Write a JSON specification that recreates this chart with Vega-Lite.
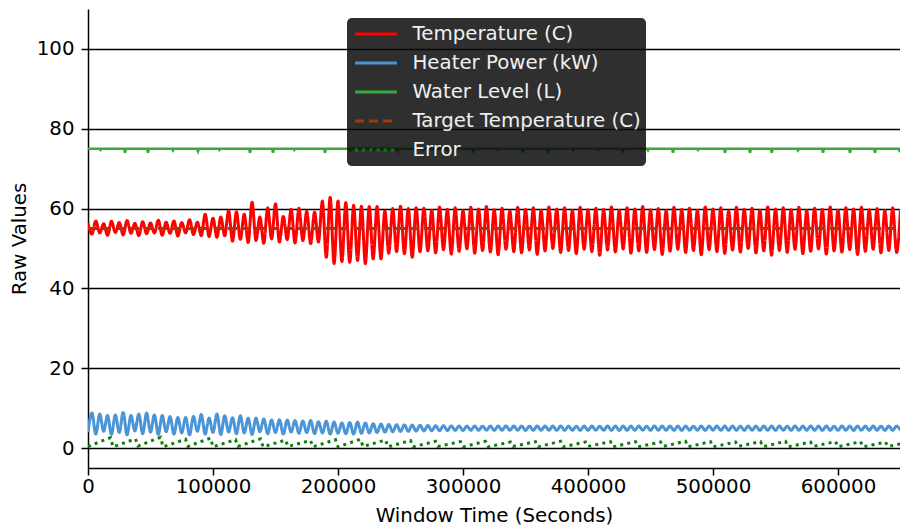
{
  "$schema": "https://vega.github.io/schema/vega-lite/v6.json",
  "width": 812,
  "height": 459,
  "autosize": {"type": "none"},
  "padding": {"left": 88, "top": 9, "right": 0, "bottom": 62},
  "background": "white",
  "config": {
    "font": "DejaVu Sans",
    "view": {"stroke": null},
    "axis": {
      "domainColor": "#000",
      "domainWidth": 1.5,
      "tickColor": "#000",
      "tickWidth": 1.5,
      "tickSize": 7,
      "labelFont": "DejaVu Sans",
      "labelFontSize": 19.8,
      "labelColor": "#000",
      "titleFont": "DejaVu Sans",
      "titleFontSize": 19.8,
      "titleFontWeight": "normal",
      "titleColor": "#000"
    },
    "legend": {
      "orient": "none",
      "legendX": 259,
      "legendY": 9,
      "fillColor": "rgba(10,10,10,0.85)",
      "cornerRadius": 5,
      "padding": 5,
      "symbolType": "stroke",
      "symbolSize": 1764,
      "symbolStrokeWidth": 3,
      "symbolOffset": 1.5,
      "labelOffset": 14,
      "labelFont": "DejaVu Sans",
      "labelFontSize": 19.8,
      "labelColor": "#f0f0f0",
      "labelLimit": 400,
      "clipHeight": 22,
      "rowPadding": 7
    }
  },
  "datasets": {
    "temperature": [
      {"time":0,"value":56.4},{"time":3125,"value":53.6},{"time":6250,"value":56.9},{"time":9375,"value":53.9},{"time":12500,"value":56.2},{"time":15625,"value":53.3},{"time":18750,"value":56.8},{"time":21875,"value":54.0},{"time":25000,"value":56.5},{"time":28125,"value":53.4},
      {"time":31250,"value":57.0},{"time":34375,"value":53.8},{"time":37500,"value":56.3},{"time":40625,"value":53.2},{"time":43750,"value":56.7},{"time":46875,"value":53.7},{"time":50000,"value":56.4},{"time":53125,"value":53.9},{"time":56250,"value":57.1},{"time":59375,"value":53.3},
      {"time":62500,"value":56.6},{"time":65625,"value":53.8},{"time":68750,"value":56.9},{"time":71875,"value":53.1},{"time":75000,"value":56.5},{"time":78125,"value":53.9},{"time":81250,"value":57.2},{"time":84375,"value":53.5},{"time":87500,"value":56.6},{"time":90625,"value":53.2},
      {"time":93750,"value":58.6},{"time":96875,"value":53.0},{"time":100000,"value":57.6},{"time":103125,"value":52.8},{"time":106250,"value":57.9},{"time":109375,"value":53.2},{"time":112500,"value":59.4},{"time":115625,"value":51.8},{"time":118750,"value":59.2},{"time":121875,"value":52.3},
      {"time":125000,"value":58.6},{"time":128125,"value":51.5},{"time":131250,"value":61.6},{"time":134375,"value":52.0},{"time":137500,"value":57.9},{"time":140625,"value":51.3},{"time":143750,"value":60.2},{"time":146875,"value":52.4},{"time":150000,"value":61.2},{"time":153125,"value":51.6},
      {"time":156250,"value":58.0},{"time":159375,"value":52.2},{"time":162500,"value":59.8},{"time":165625,"value":51.4},{"time":168750,"value":60.1},{"time":171875,"value":52.0},{"time":175000,"value":59.3},{"time":178125,"value":51.2},{"time":181250,"value":59.1},{"time":184375,"value":51.6},
      {"time":187500,"value":61.9},{"time":190625,"value":47.8},{"time":193750,"value":62.8},{"time":196875,"value":46.2},{"time":200000,"value":61.9},{"time":203125,"value":46.7},{"time":206250,"value":61.5},{"time":209375,"value":46.5},{"time":212500,"value":60.8},{"time":215625,"value":47.0},
      {"time":218750,"value":60.6},{"time":221875,"value":46.2},{"time":225000,"value":60.5},{"time":228125,"value":47.4},{"time":231250,"value":60.5},{"time":234375,"value":47.4},{"time":237500,"value":59.4},{"time":240625,"value":48.8},{"time":243750,"value":60.0},{"time":246875,"value":49.2},
      {"time":250000,"value":60.6},{"time":253125,"value":48.7},{"time":256250,"value":60.0},{"time":259375,"value":47.8},{"time":262500,"value":60.2},{"time":265625,"value":49.2},{"time":268750,"value":60.1},{"time":271875,"value":49.4},{"time":275000,"value":59.6},{"time":278125,"value":48.9},
      {"time":281250,"value":60.4},{"time":284375,"value":49.7},{"time":287500,"value":59.8},{"time":290625,"value":48.6},{"time":293750,"value":60.2},{"time":296875,"value":49.3},{"time":300000,"value":59.5},{"time":303125,"value":49.9},{"time":306250,"value":60.3},{"time":309375,"value":48.8},
      {"time":312500,"value":59.9},{"time":315625,"value":49.5},{"time":318750,"value":60.5},{"time":321875,"value":49.1},{"time":325000,"value":59.7},{"time":328125,"value":48.4},{"time":331250,"value":60.1},{"time":334375,"value":49.8},{"time":337500,"value":59.4},{"time":340625,"value":49.2},
      {"time":343750,"value":60.3},{"time":346875,"value":48.9},{"time":350000,"value":59.8},{"time":353125,"value":49.6},{"time":356250,"value":60.2},{"time":359375,"value":48.5},{"time":362500,"value":59.6},{"time":365625,"value":49.4},{"time":368750,"value":60.4},{"time":371875,"value":50.0},
      {"time":375000,"value":59.9},{"time":378125,"value":49.0},{"time":381250,"value":60.2},{"time":384375,"value":49.5},{"time":387500,"value":59.5},{"time":390625,"value":48.7},{"time":393750,"value":60.3},{"time":396875,"value":49.8},{"time":400000,"value":59.7},{"time":403125,"value":49.2},
      {"time":406250,"value":60.1},{"time":409375,"value":48.3},{"time":412500,"value":59.8},{"time":415625,"value":49.6},{"time":418750,"value":60.4},{"time":421875,"value":49.1},{"time":425000,"value":59.6},{"time":428125,"value":49.9},{"time":431250,"value":60.2},{"time":434375,"value":48.8},
      {"time":437500,"value":59.9},{"time":440625,"value":49.4},{"time":443750,"value":60.5},{"time":446875,"value":49.0},{"time":450000,"value":59.7},{"time":453125,"value":49.7},{"time":456250,"value":60.0},{"time":459375,"value":48.5},{"time":462500,"value":59.5},{"time":465625,"value":49.3},
      {"time":468750,"value":60.3},{"time":471875,"value":49.8},{"time":475000,"value":59.8},{"time":478125,"value":49.0},{"time":481250,"value":60.1},{"time":484375,"value":49.5},{"time":487500,"value":59.6},{"time":490625,"value":48.4},{"time":493750,"value":60.4},{"time":496875,"value":49.7},
      {"time":500000,"value":59.9},{"time":503125,"value":49.2},{"time":506250,"value":60.2},{"time":509375,"value":48.8},{"time":512500,"value":59.4},{"time":515625,"value":49.6},{"time":518750,"value":60.3},{"time":521875,"value":49.1},{"time":525000,"value":59.8},{"time":528125,"value":50.0},
      {"time":531250,"value":60.1},{"time":534375,"value":48.9},{"time":537500,"value":59.6},{"time":540625,"value":49.4},{"time":543750,"value":60.4},{"time":546875,"value":48.3},{"time":550000,"value":59.9},{"time":553125,"value":49.5},{"time":556250,"value":60.2},{"time":559375,"value":49.0},
      {"time":562500,"value":59.7},{"time":565625,"value":49.8},{"time":568750,"value":60.3},{"time":571875,"value":48.7},{"time":575000,"value":59.5},{"time":578125,"value":49.3},{"time":581250,"value":60.1},{"time":584375,"value":49.9},{"time":587500,"value":59.8},{"time":590625,"value":48.6},
      {"time":593750,"value":60.4},{"time":596875,"value":49.4},{"time":600000,"value":59.6},{"time":603125,"value":49.1},{"time":606250,"value":60.2},{"time":609375,"value":49.7},{"time":612500,"value":59.9},{"time":615625,"value":48.5},{"time":618750,"value":60.3},{"time":621875,"value":49.3},
      {"time":625000,"value":59.7},{"time":628125,"value":49.8},{"time":631250,"value":60.0},{"time":634375,"value":48.9},{"time":637500,"value":59.5},{"time":640625,"value":49.5},{"time":643750,"value":60.2},{"time":646875,"value":49.0},{"time":650000,"value":59.8}
    ],
    "power": [
      {"time":0,"value":4.0},{"time":3125,"value":8.75},{"time":6250,"value":3.5},{"time":9375,"value":8.5},{"time":12500,"value":4.2},{"time":15625,"value":8.15},{"time":18750,"value":3.4},{"time":21875,"value":8.3},{"time":25000,"value":3.9},{"time":28125,"value":8.9},
      {"time":31250,"value":3.3},{"time":34375,"value":8.15},{"time":37500,"value":4.3},{"time":40625,"value":8.5},{"time":43750,"value":3.6},{"time":46875,"value":8.75},{"time":50000,"value":4.0},{"time":53125,"value":8.3},{"time":56250,"value":3.4},{"time":59375,"value":8.15},
      {"time":62500,"value":4.1},{"time":65625,"value":7.9},{"time":68750,"value":3.5},{"time":71875,"value":7.65},{"time":75000,"value":3.8},{"time":78125,"value":7.65},{"time":81250,"value":3.3},{"time":84375,"value":7.9},{"time":87500,"value":4.2},{"time":90625,"value":8.4},
      {"time":93750,"value":3.5},{"time":96875,"value":7.5},{"time":100000,"value":3.9},{"time":103125,"value":8.5},{"time":106250,"value":3.4},{"time":109375,"value":8.1},{"time":112500,"value":4.0},{"time":115625,"value":7.6},{"time":118750,"value":3.6},{"time":121875,"value":8.1},
      {"time":125000,"value":3.8},{"time":128125,"value":7.5},{"time":131250,"value":3.4},{"time":134375,"value":7.5},{"time":137500,"value":4.1},{"time":140625,"value":7.3},{"time":143750,"value":3.6},{"time":146875,"value":7.0},{"time":150000,"value":3.9},{"time":153125,"value":7.1},
      {"time":156250,"value":3.5},{"time":159375,"value":7.0},{"time":162500,"value":4.0},{"time":165625,"value":6.9},{"time":168750,"value":3.7},{"time":171875,"value":6.8},{"time":175000,"value":3.9},{"time":178125,"value":6.9},{"time":181250,"value":3.6},{"time":184375,"value":6.6},
      {"time":187500,"value":3.8},{"time":190625,"value":6.7},{"time":193750,"value":3.5},{"time":196875,"value":6.5},{"time":200000,"value":3.7},{"time":203125,"value":6.3},{"time":206250,"value":3.6},{"time":209375,"value":6.4},{"time":212500,"value":3.5},{"time":215625,"value":6.5},
      {"time":218750,"value":3.7},{"time":221875,"value":6.3},{"time":225000,"value":3.8},{"time":228125,"value":6.1},{"time":231250,"value":3.9},{"time":234375,"value":6.0},{"time":237500,"value":4.0},{"time":240625,"value":5.9},{"time":243750,"value":4.1},{"time":246875,"value":5.85},
      {"time":250000,"value":4.15},{"time":253125,"value":5.8},{"time":256250,"value":4.2},{"time":259375,"value":5.75},{"time":262500,"value":4.25},{"time":265625,"value":5.7},{"time":268750,"value":4.3},{"time":271875,"value":5.65},{"time":275000,"value":4.35},{"time":278125,"value":5.6},
      {"time":281250,"value":4.35},{"time":284375,"value":5.6},{"time":287500,"value":4.4},{"time":290625,"value":5.55},{"time":293750,"value":4.45},{"time":296875,"value":5.52},{"time":300000,"value":4.42},{"time":303125,"value":5.5},{"time":306250,"value":4.46},{"time":309375,"value":5.53},
      {"time":312500,"value":4.44},{"time":315625,"value":5.49},{"time":318750,"value":4.47},{"time":321875,"value":5.52},{"time":325000,"value":4.43},{"time":328125,"value":5.5},{"time":331250,"value":4.46},{"time":334375,"value":5.54},{"time":337500,"value":4.44},{"time":340625,"value":5.5},
      {"time":343750,"value":4.45},{"time":346875,"value":5.52},{"time":350000,"value":4.42},{"time":353125,"value":5.49},{"time":356250,"value":4.46},{"time":359375,"value":5.53},{"time":362500,"value":4.44},{"time":365625,"value":5.5},{"time":368750,"value":4.47},{"time":371875,"value":5.51},
      {"time":375000,"value":4.43},{"time":378125,"value":5.53},{"time":381250,"value":4.45},{"time":384375,"value":5.5},{"time":387500,"value":4.46},{"time":390625,"value":5.48},{"time":393750,"value":4.44},{"time":396875,"value":5.52},{"time":400000,"value":4.43},{"time":403125,"value":5.51},
      {"time":406250,"value":4.46},{"time":409375,"value":5.49},{"time":412500,"value":4.44},{"time":415625,"value":5.53},{"time":418750,"value":4.45},{"time":421875,"value":5.5},{"time":425000,"value":4.42},{"time":428125,"value":5.52},{"time":431250,"value":4.46},{"time":434375,"value":5.5},
      {"time":437500,"value":4.44},{"time":440625,"value":5.51},{"time":443750,"value":4.47},{"time":446875,"value":5.49},{"time":450000,"value":4.43},{"time":453125,"value":5.53},{"time":456250,"value":4.45},{"time":459375,"value":5.5},{"time":462500,"value":4.46},{"time":465625,"value":5.52},
      {"time":468750,"value":4.44},{"time":471875,"value":5.5},{"time":475000,"value":4.43},{"time":478125,"value":5.52},{"time":481250,"value":4.46},{"time":484375,"value":5.49},{"time":487500,"value":4.45},{"time":490625,"value":5.53},{"time":493750,"value":4.44},{"time":496875,"value":5.5},
      {"time":500000,"value":4.47},{"time":503125,"value":5.51},{"time":506250,"value":4.43},{"time":509375,"value":5.5},{"time":512500,"value":4.45},{"time":515625,"value":5.52},{"time":518750,"value":4.46},{"time":521875,"value":5.49},{"time":525000,"value":4.44},{"time":528125,"value":5.53},
      {"time":531250,"value":4.45},{"time":534375,"value":5.5},{"time":537500,"value":4.42},{"time":540625,"value":5.52},{"time":543750,"value":4.46},{"time":546875,"value":5.5},{"time":550000,"value":4.44},{"time":553125,"value":5.51},{"time":556250,"value":4.47},{"time":559375,"value":5.49},
      {"time":562500,"value":4.43},{"time":565625,"value":5.53},{"time":568750,"value":4.45},{"time":571875,"value":5.5},{"time":575000,"value":4.46},{"time":578125,"value":5.52},{"time":581250,"value":4.44},{"time":584375,"value":5.5},{"time":587500,"value":4.43},{"time":590625,"value":5.51},
      {"time":593750,"value":4.46},{"time":596875,"value":5.49},{"time":600000,"value":4.44},{"time":603125,"value":5.53},{"time":606250,"value":4.45},{"time":609375,"value":5.5},{"time":612500,"value":4.42},{"time":615625,"value":5.52},{"time":618750,"value":4.46},{"time":621875,"value":5.5},
      {"time":625000,"value":4.44},{"time":628125,"value":5.51},{"time":631250,"value":4.47},{"time":634375,"value":5.49},{"time":637500,"value":4.43},{"time":640625,"value":5.53},{"time":643750,"value":4.45},{"time":646875,"value":5.5},{"time":650000,"value":4.46}
    ],
    "water": [
      {"time":0,"value":75},
      {"time":9300,"value":75},{"time":10000,"value":74.7},{"time":10700,"value":75},
      {"time":28900,"value":75},{"time":29600,"value":74.0},{"time":30300,"value":75},
      {"time":47300,"value":75},{"time":48000,"value":74.0},{"time":48700,"value":75},
      {"time":67300,"value":75},{"time":68000,"value":74.6},{"time":68700,"value":75},
      {"time":87300,"value":75},{"time":88000,"value":74.4},{"time":88700,"value":75},
      {"time":104300,"value":75},{"time":105000,"value":74.7},{"time":105700,"value":75},
      {"time":128900,"value":75},{"time":129600,"value":74.0},{"time":130300,"value":75},
      {"time":147300,"value":75},{"time":148000,"value":74.0},{"time":148700,"value":75},
      {"time":164300,"value":75},{"time":165000,"value":74.7},{"time":165700,"value":75},
      {"time":188900,"value":75},{"time":189600,"value":74.0},{"time":190300,"value":75},
      {"time":209300,"value":75},{"time":210000,"value":74.6},{"time":210700,"value":75},
      {"time":227300,"value":75},{"time":228000,"value":74.7},{"time":228700,"value":75},
      {"time":247300,"value":75},{"time":248000,"value":74.4},{"time":248700,"value":75},
      {"time":267300,"value":75},{"time":268000,"value":74.7},{"time":268700,"value":75},
      {"time":287300,"value":75},{"time":288000,"value":74.6},{"time":288700,"value":75},
      {"time":307300,"value":75},{"time":308000,"value":74.0},{"time":308700,"value":75},
      {"time":327300,"value":75},{"time":328000,"value":74.7},{"time":328700,"value":75},
      {"time":347300,"value":75},{"time":348000,"value":74.0},{"time":348700,"value":75},
      {"time":367300,"value":75},{"time":368000,"value":74.0},{"time":368700,"value":75},
      {"time":387300,"value":75},{"time":388000,"value":74.6},{"time":388700,"value":75},
      {"time":407300,"value":75},{"time":408000,"value":74.7},{"time":408700,"value":75},
      {"time":427300,"value":75},{"time":428000,"value":74.0},{"time":428700,"value":75},
      {"time":447300,"value":75},{"time":448000,"value":74.6},{"time":448700,"value":75},
      {"time":467300,"value":75},{"time":468000,"value":74.0},{"time":468700,"value":75},
      {"time":487300,"value":75},{"time":488000,"value":74.7},{"time":488700,"value":75},
      {"time":508900,"value":75},{"time":509600,"value":74.0},{"time":510300,"value":75},
      {"time":528900,"value":75},{"time":529600,"value":74.0},{"time":530300,"value":75},
      {"time":546300,"value":75},{"time":547000,"value":74.0},{"time":547700,"value":75},
      {"time":567300,"value":75},{"time":568000,"value":74.6},{"time":568700,"value":75},
      {"time":587300,"value":75},{"time":588000,"value":74.0},{"time":588700,"value":75},
      {"time":608900,"value":75},{"time":609600,"value":74.0},{"time":610300,"value":75},
      {"time":628900,"value":75},{"time":629600,"value":74.0},{"time":630300,"value":75},
      {"time":648300,"value":75},{"time":649000,"value":74.6},{"time":649700,"value":75},
      {"time":652000,"value":75}
    ],
    "target": [
      {"time":0,"value":55},{"time":652000,"value":55}
    ],
    "error": [
      {"time":0,"value":0.4},{"time":18000,"value":2.6},{"time":20000,"value":0.3},{"time":38000,"value":2.3},
      {"time":40000,"value":0.5},{"time":58000,"value":2.7},{"time":60000,"value":0.3},{"time":78000,"value":2.2},
      {"time":80000,"value":0.4},{"time":98000,"value":2.5},{"time":100000,"value":0.3},{"time":118000,"value":2.1},
      {"time":120000,"value":0.4},{"time":138000,"value":2.3},{"time":140000,"value":0.3},{"time":158000,"value":2.0},
      {"time":160000,"value":0.4},{"time":178000,"value":1.9},{"time":180000,"value":0.3},{"time":198000,"value":2.1},
      {"time":200000,"value":0.3},{"time":218000,"value":2.2},{"time":220000,"value":0.4},{"time":238000,"value":2.0},
      {"time":240000,"value":0.3},{"time":258000,"value":1.9},{"time":260000,"value":0.3},{"time":278000,"value":1.7},
      {"time":280000,"value":0.4},{"time":298000,"value":1.6},{"time":300000,"value":0.3},{"time":318000,"value":1.7},
      {"time":320000,"value":0.3},{"time":338000,"value":1.5},{"time":340000,"value":0.4},{"time":358000,"value":1.6},
      {"time":360000,"value":0.3},{"time":378000,"value":1.7},{"time":380000,"value":0.3},{"time":398000,"value":1.5},
      {"time":400000,"value":0.4},{"time":418000,"value":1.6},{"time":420000,"value":0.3},{"time":438000,"value":1.6},
      {"time":440000,"value":0.3},{"time":458000,"value":1.5},{"time":460000,"value":0.4},{"time":478000,"value":1.7},
      {"time":480000,"value":0.3},{"time":498000,"value":1.6},{"time":500000,"value":0.3},{"time":518000,"value":1.5},
      {"time":520000,"value":0.4},{"time":538000,"value":1.6},{"time":540000,"value":0.3},{"time":558000,"value":1.7},
      {"time":560000,"value":0.3},{"time":578000,"value":1.5},{"time":580000,"value":0.4},{"time":598000,"value":1.6},
      {"time":600000,"value":0.3},{"time":618000,"value":1.6},{"time":620000,"value":0.3},{"time":638000,"value":1.5},
      {"time":640000,"value":0.4},{"time":658000,"value":1.6}
    ],
    "topEdge": [
      {"time":0},{"time":649600}
    ]
  },
  "encoding": {
    "x": {
      "field": "time",
      "type": "quantitative",
      "scale": {"domain": [0, 649600], "nice": false, "zero": false},
      "axis": {
        "title": "Window Time (Seconds)",
        "values": [0, 100000, 200000, 300000, 400000, 500000, 600000],
        "format": "d",
        "labelFlush": false,
        "labelPadding": 1,
        "titlePadding": 10,
        "grid": false
      }
    },
    "y": {
      "field": "value",
      "type": "quantitative",
      "scale": {"domain": [-5, 110], "nice": false, "zero": false},
      "axis": {
        "title": "Raw Values",
        "values": [0, 20, 40, 60, 80, 100],
        "grid": true,
        "gridColor": "#000",
        "gridWidth": 1.5,
        "gridOpacity": 1,
        "labelPadding": 7,
        "titlePadding": 7
      }
    }
  },
  "layer": [
    {
      "data": {"name": "temperature"},
      "mark": {"type": "line", "interpolate": "monotone", "strokeWidth": 3, "clip": true},
      "encoding": {
        "color": {
          "datum": "Temperature (C)",
          "title": null,
          "scale": {
            "domain": ["Temperature (C)", "Heater Power (kW)", "Water Level (L)", "Target Temperature (C)", "Error"],
            "range": ["#ff0000", "#4a94d8", "#3ca83c", "#a33a0b", "#0a800a"]
          }
        },
        "strokeDash": {
          "datum": "Temperature (C)",
          "title": null,
          "scale": {
            "domain": ["Temperature (C)", "Heater Power (kW)", "Water Level (L)", "Target Temperature (C)", "Error"],
            "range": [[1, 0], [1, 0], [1, 0], [9, 5], [3, 4.2]]
          }
        }
      }
    },
    {
      "data": {"name": "power"},
      "mark": {"type": "line", "interpolate": "monotone", "strokeWidth": 3, "clip": true},
      "encoding": {
        "color": {"datum": "Heater Power (kW)"},
        "strokeDash": {"datum": "Heater Power (kW)"}
      }
    },
    {
      "data": {"name": "water"},
      "mark": {"type": "line", "strokeWidth": 2.6, "clip": true},
      "encoding": {
        "color": {"datum": "Water Level (L)"},
        "strokeDash": {"datum": "Water Level (L)"}
      }
    },
    {
      "data": {"name": "target"},
      "mark": {"type": "line", "strokeWidth": 3, "clip": true},
      "encoding": {
        "color": {"datum": "Target Temperature (C)"},
        "strokeDash": {"datum": "Target Temperature (C)"}
      }
    },
    {
      "data": {"name": "error"},
      "mark": {"type": "line", "strokeWidth": 3, "clip": true},
      "encoding": {
        "color": {"datum": "Error"},
        "strokeDash": {"datum": "Error"}
      }
    },
    {
      "data": {"name": "topEdge"},
      "mark": {"type": "line", "color": "#000", "strokeWidth": 1.5, "clip": false},
      "encoding": {
        "y": {"datum": 110}
      }
    }
  ]
}
